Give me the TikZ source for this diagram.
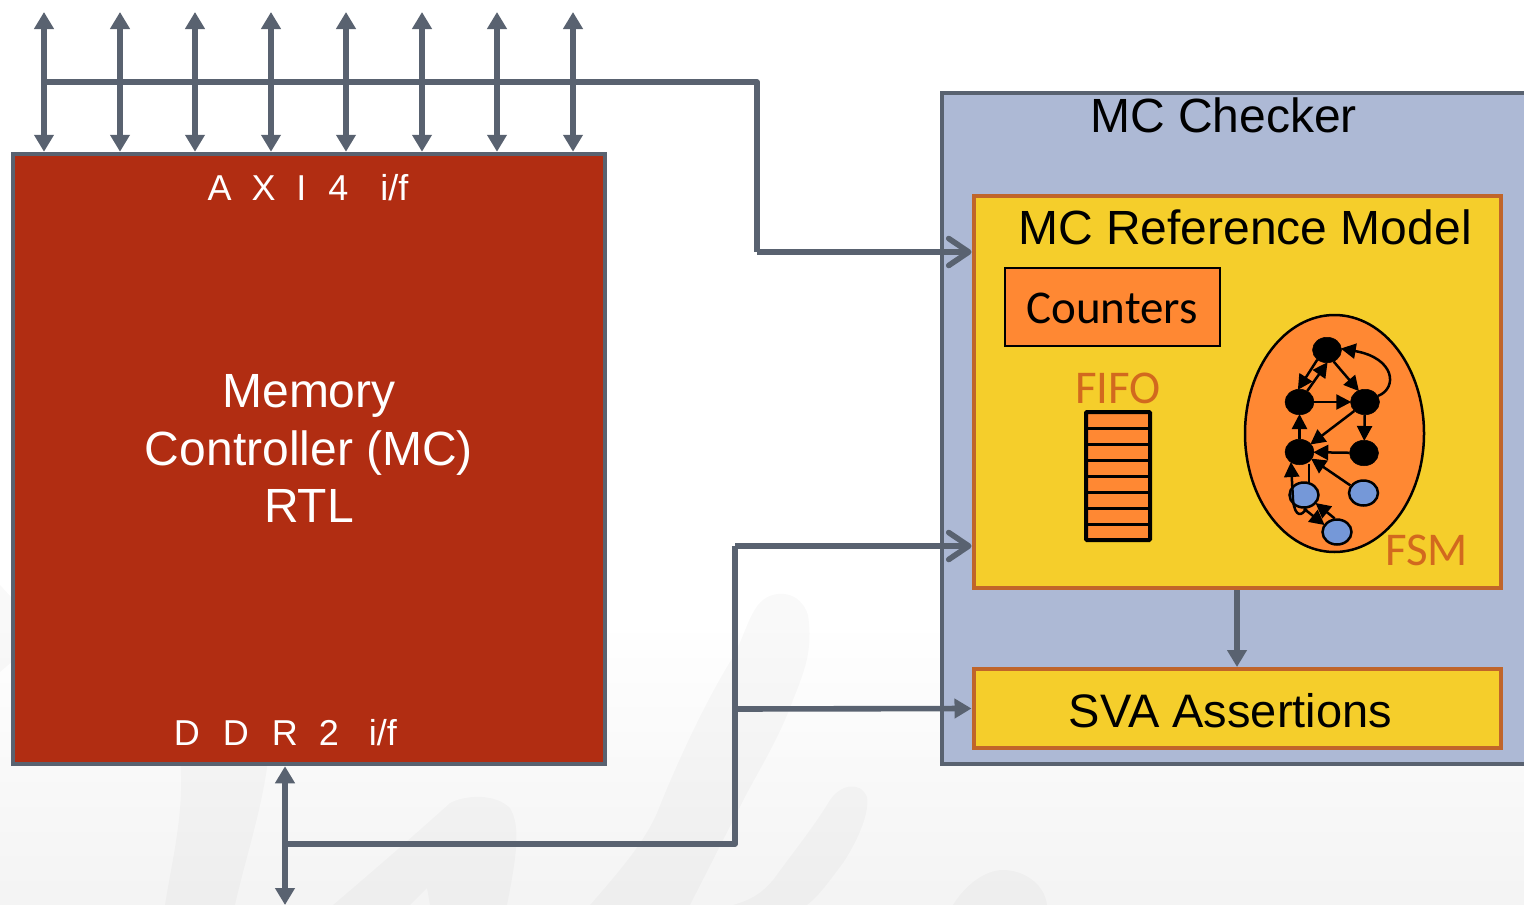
\documentclass[tikz,border=0pt]{standalone}
\usepackage{fontspec}
\setmainfont{Liberation Sans}
\newfontfamily\calfont{Carlito}
\usetikzlibrary{arrows.meta,shapes.geometric}
\definecolor{slateline}{HTML}{596270}
\definecolor{memred}{HTML}{B12D12}
\definecolor{checkerblue}{HTML}{ADB9D5}
\definecolor{boxyellow}{HTML}{F5CE2B}
\definecolor{boxedge}{HTML}{C0652A}
\definecolor{fsmorange}{HTML}{FF8833}
\definecolor{fsmtext}{HTML}{D2691E}
\definecolor{stateblue}{HTML}{7598D8}
\tikzset{
  bigbox/.style={draw=slateline,line width=4.5pt,rectangle,inner sep=0pt,miter limit=10},
  modelbox/.style={draw=boxedge,fill=boxyellow,line width=4pt,rectangle,inner sep=0pt},
  bus/.style={draw=slateline,line width=5.6pt},
  solid2/.style={bus,{Triangle[length=17pt,width=19pt]}-{Triangle[length=17pt,width=19pt]}},
  solid1/.style={bus,-{Triangle[length=17pt,width=19pt]}},
  open1/.style={bus,-{Straight Barb[length=20pt,width=27pt,round]}},
  txtlabel/.style={inner sep=0pt,anchor=base,font=\fontsize{48pt}{57.5pt}\selectfont},
  iflabel/.style={inner sep=0pt,anchor=base,text=white,font=\fontsize{36pt}{40pt}\selectfont},
  callabel/.style={inner sep=0pt,anchor=base,font=\calfont\fontsize{47pt}{50pt}\selectfont},
  blackstate/.style={ellipse,fill=black,draw=black,line width=0.5pt,minimum width=29pt,minimum height=25.5pt,inner sep=0pt},
  bluestate/.style={ellipse,fill=stateblue,draw=black,line width=2.5pt,minimum width=29pt,minimum height=25pt,inner sep=0pt},
  fsmarrow/.style={draw=black,line width=2.5pt,-{Triangle[length=15pt,width=15pt]},shorten >=-1pt},
  fsmline/.style={draw=black,line width=2.5pt},
  wmark/.style={fill=black,opacity=0.025,draw=none}
}
\begin{document}
\begin{tikzpicture}[x=1pt,y=-1pt]
\useasboundingbox (0,0) rectangle (1524,905);
\clip (0,0) rectangle (1524,905);
% page background with faint watermark
\fill[white] (0,0) rectangle (1524,905);
\shade[top color=white,bottom color=black!4.5] (0,620) rectangle (1524,905);
\fill[wmark] (0,585) -- (14,600) -- (14,660) -- (0,672) -- cycle;
\fill[wmark] (180,760) .. controls (185,810) and (172,860) .. (165,905) -- (235,905) .. controls (245,860) and (262,810) .. (268,760) -- cycle;
\fill[wmark] (590,905) .. controls (625,865) and (645,840) .. (657,813) .. controls (670,780) and (700,710) .. (733,657)
  .. controls (745,635) and (750,610) .. (763,600) .. controls (775,590) and (800,590) .. (808,615)
  .. controls (813,650) and (805,670) .. (793,700) .. controls (780,735) and (765,760) .. (747,793) -- (690,905) -- cycle;
\fill[wmark] (733,905) .. controls (750,900) and (760,895) .. (773,880) .. controls (795,850) and (815,825) .. (830,800)
  .. controls (840,785) and (860,780) .. (867,797) .. controls (870,815) and (855,845) .. (843,863) .. controls (830,880) and (820,895) .. (807,905) -- cycle;
\fill[wmark] (333,905) .. controls (380,865) and (420,830) .. (450,803) .. controls (465,795) and (495,793) .. (510,808)
  .. controls (520,825) and (518,850) .. (507,905) -- (430,905) -- (427,888) -- (410,905) -- cycle;
\fill[wmark] (953,905) .. controls (965,885) and (985,870) .. (1003,870) .. controls (1025,870) and (1045,885) .. (1047,905) -- cycle;

% boxes
\node[bigbox,fill=checkerblue,minimum width=700pt,minimum height=671pt] (checker) at (1292,428.5) {};
\node[modelbox,minimum width=527.5pt,minimum height=392pt] (refmodel) at (1237.25,392) {};
\node[modelbox,minimum width=527.5pt,minimum height=79pt] (sva) at (1237.25,708.5) {};
\node[bigbox,fill=memred,minimum width=592pt,minimum height=610pt] (mc) at (309,459) {};
\node[rectangle,draw=black,fill=fsmorange,line width=2pt,minimum width=215pt,minimum height=78pt,inner sep=0pt] (counters) at (1112.5,307) {};

% FIFO
\node[rectangle,draw=black,fill=fsmorange,line width=4pt,rounded corners=1pt,minimum width=64pt,minimum height=128pt,inner sep=0pt] (fifo) at (1118,476) {};
\foreach \yy in {428,444,460,476,492,508,524}
  \draw[black,line width=3pt] (fifo.west |- 0,\yy) -- (fifo.east |- 0,\yy);

% FSM
\node[ellipse,draw=black,fill=fsmorange,line width=2.5pt,minimum width=179pt,minimum height=237pt,inner sep=0pt] (fsm) at (1334.5,433.5) {};
\node[blackstate] (n1) at (1327,350) {};
\node[blackstate] (n2) at (1299.5,402) {};
\node[blackstate] (n3) at (1365,402) {};
\node[blackstate] (n4) at (1299.5,452) {};
\node[blackstate] (n5) at (1364,453) {};
\node[bluestate] (b1) at (1304,495) {};
\node[bluestate] (b2) at (1363.5,493) {};
\node[bluestate] (b3) at (1337,532) {};
\draw[fsmarrow] (n1.225) -- (n2.95);
\draw[fsmarrow] (n2.55) -- (n1.270);
\draw[fsmarrow] (n1.300) -- (n3.120);
\draw[fsmarrow] (n2) -- (n3);
\draw[fsmarrow] (n3.25) .. controls (1398,388) and (1395,358) .. (n1.5);
\draw[fsmarrow] (n3.220) -- (n4.35);
\draw[fsmarrow] (n3) -- (n5);
\draw[fsmarrow] (n4) -- (n2);
\draw[fsmarrow] (n5) -- (n4);
\draw[fsmarrow] (b2.150) -- (n4.330);
\draw[fsmline] (b1.70) -- (b1.70 |- n4.300);
\draw[fsmarrow] (b1.280) .. controls (1302,516) and (1295,518) .. (1293,500) -- (1291,463);
\draw[fsmarrow] (b1.270) -- (b3.150);
\draw[fsmarrow] (b3.100) -- (b1.325);

% texts
\node[txtlabel] (checkertxt) at (1223.5,132) {MC Checker};
\node[txtlabel] (reftxt) at (1245,244) {MC Reference Model};
\node[txtlabel,font=\fontsize{47pt}{57.5pt}\selectfont] (svatxt) at (1230.5,727) {SVA Assertions};
\node[txtlabel,anchor=center,text=white,align=center] (mctxt) at (309,448.5) {Memory\\Controller (MC)\\RTL};
\node[iflabel] (axitxt) at (308,200.5) {A\hspace{20pt}X\hspace{20.5pt}I\hspace{22pt}4\hspace{32pt}i/f};
\node[iflabel] (ddrtxt) at (285.5,745.5) {D\hspace{23pt}D\hspace{23pt}R\hspace{21pt}2\hspace{30pt}i/f};
\node[callabel] (countxt) at (1112,323) {Counters};
\node[callabel,text=fsmtext] (fifotxt) at (1118,403) {FIFO};
\node[callabel,text=fsmtext] (fsmtxt) at (1426.5,565) {FSM};

% AXI bus
\coordinate (bus0) at (44,82);
\coordinate (busc) at (757,82);
\coordinate (busd) at (757,252);
\foreach \i/\xx in {1/44,2/120,3/195,4/271,5/346,6/422,7/497,8/573}{
  \coordinate (top\i) at (\xx,12);
  \draw[solid2] (top\i) -- (mc.north -| top\i);
}
\draw[bus,line join=round] (bus0) -- (busc) -- (busd);
\draw[open1] (busd) -- (refmodel.west |- busd);

% DDR bus
\coordinate (ddrb) at (285,905);
\coordinate (ddrj) at (285,844);
\coordinate (ddrc) at (735,844);
\coordinate (ddrd) at (735,546);
\coordinate (ddre) at (735,709);
\draw[solid2] (ddrb) -- (mc.south -| ddrb);
\draw[bus,line join=round] (ddrj) -- (ddrc) -- (ddrd);
\draw[open1] (ddrd) -- (refmodel.west |- ddrd);
\draw[solid1] (ddre) -- (sva.west);
\draw[solid1] (refmodel.south -| 1237,0) -- (sva.north -| 1237,0);
\end{tikzpicture}
\end{document}
